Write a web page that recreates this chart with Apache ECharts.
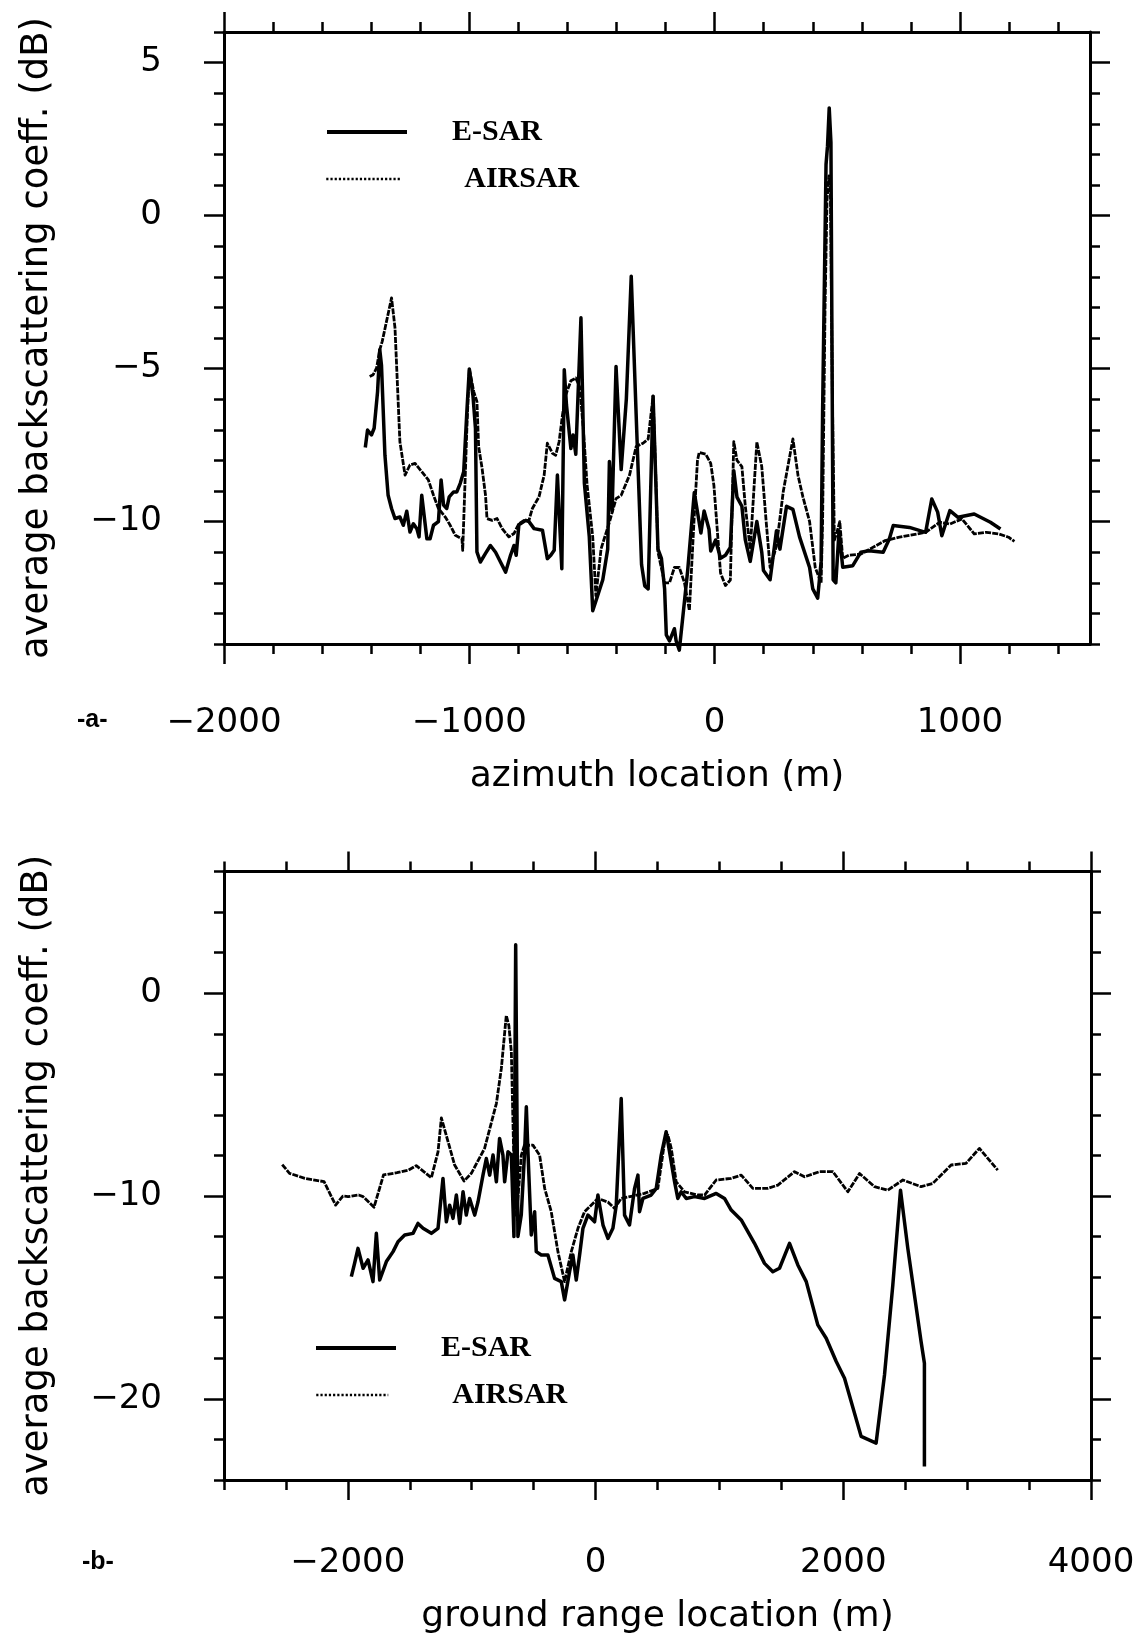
<!DOCTYPE html>
<html><head><meta charset="utf-8">
<script src="https://cdn.jsdelivr.net/npm/echarts@6/dist/echarts.min.js"></script>
<style>html,body{margin:0;padding:0;background:#fff}#c{width:1141px;height:1638px}</style>
</head><body><div id="c"></div>
<script>
// ---- panel (a): azimuth profile ----
const aEsar = [[-1424,-7.58],[-1415,-7.01],[-1399,-7.17],[-1388,-6.95],[-1374,-5.75],[-1365,-4.38],[-1358,-4.9],[-1344,-7.83],[-1331,-9.14],[-1317,-9.57],[-1303,-9.9],[-1283,-9.85],[-1269,-10.12],[-1255,-9.66],[-1242,-10.34],[-1228,-10.07],[-1214,-10.23],[-1205,-10.5],[-1194,-9.14],[-1187,-9.19],[-1173,-10.56],[-1160,-10.56],[-1146,-10.12],[-1126,-10.0],[-1115,-8.64],[-1105,-9.46],[-1092,-9.57],[-1082,-9.19],[-1064,-9.03],[-1051,-9.03],[-1037,-8.75],[-1023,-8.37],[-1010,-6.4],[-1000,-5.01],[-985,-5.9],[-975,-6.95],[-969,-10.99],[-955,-11.32],[-934,-11.04],[-914,-10.78],[-893,-11.0],[-873,-11.32],[-852,-11.65],[-832,-11.1],[-818,-10.78],[-809,-11.1],[-798,-10.1],[-770,-9.96],[-757,-10.0],[-736,-10.23],[-702,-10.28],[-682,-11.21],[-668,-11.1],[-654,-10.94],[-641,-8.48],[-623,-11.54],[-613,-5.04],[-604,-6.19],[-586,-7.61],[-577,-7.17],[-566,-7.8],[-545,-3.34],[-531,-8.75],[-511,-10.5],[-497,-12.91],[-477,-12.42],[-456,-11.9],[-436,-10.9],[-429,-8.04],[-418,-9.66],[-402,-4.93],[-381,-8.3],[-360,-6.0],[-340,-1.98],[-320,-6.5],[-298,-11.4],[-285,-12.1],[-271,-12.2],[-251,-5.9],[-231,-10.9],[-217,-11.2],[-204,-12.2],[-197,-13.7],[-184,-13.9],[-164,-13.5],[-157,-13.9],[-144,-14.2],[-123,-12.6],[-110,-11.6],[-83,-9.05],[-56,-10.37],[-43,-9.65],[-23,-10.25],[-16,-10.96],[4,-10.6],[24,-11.2],[44,-11.1],[64,-10.84],[78,-8.34],[91,-9.2],[111,-9.5],[125,-10.6],[145,-11.3],[172,-10.0],[192,-11.0],[199,-11.6],[226,-11.9],[252,-10.3],[266,-10.9],[293,-9.5],[319,-9.6],[346,-10.5],[387,-11.5],[400,-12.2],[420,-12.5],[434,-11.3],[440,-6.4],[454,1.67],[460,2.27],[467,3.52],[474,2.39],[481,-8.46],[483,-11.9],[494,-12.0],[507,-10.3],[522,-11.49],[563,-11.44],[596,-11.0],[629,-10.95],[687,-11.0],[712,-10.57],[728,-10.13],[794,-10.19],[860,-10.35],[885,-9.26],[909,-9.69],[926,-10.46],[959,-9.64],[992,-9.86],[1058,-9.75],[1124,-10.02],[1165,-10.24]];
const aAirsar = [[-1406,-5.26],[-1392,-5.2],[-1378,-4.98],[-1365,-4.38],[-1355,-4.11],[-1317,-2.69],[-1303,-3.67],[-1283,-7.39],[-1262,-8.48],[-1242,-8.15],[-1221,-8.1],[-1194,-8.37],[-1167,-8.64],[-1146,-9.14],[-1126,-9.57],[-1098,-9.85],[-1078,-10.12],[-1057,-10.45],[-1030,-10.56],[-1027,-10.94],[-1010,-6.95],[-1000,-5.01],[-982,-5.75],[-969,-6.08],[-962,-7.55],[-948,-8.26],[-934,-9.14],[-928,-9.9],[-907,-9.96],[-887,-9.9],[-866,-10.23],[-839,-10.5],[-818,-10.39],[-798,-10.07],[-777,-9.96],[-757,-9.96],[-743,-9.57],[-716,-9.19],[-695,-8.48],[-682,-7.44],[-661,-7.77],[-648,-7.83],[-634,-7.39],[-620,-6.5],[-607,-5.86],[-586,-5.4],[-566,-5.31],[-550,-5.6],[-535,-7.0],[-520,-8.8],[-497,-10.5],[-484,-12.42],[-463,-10.89],[-429,-10.02],[-402,-9.25],[-381,-9.14],[-347,-8.48],[-320,-7.55],[-292,-7.44],[-271,-7.3],[-251,-5.9],[-240,-8.5],[-231,-11.0],[-204,-12.0],[-184,-12.0],[-164,-11.5],[-144,-11.5],[-123,-12.0],[-103,-12.9],[-83,-9.8],[-70,-8.0],[-63,-7.74],[-36,-7.8],[-16,-8.1],[-3,-8.82],[24,-11.68],[44,-12.09],[64,-11.91],[78,-7.39],[91,-8.0],[111,-8.2],[125,-9.5],[145,-10.9],[172,-7.4],[192,-8.2],[210,-10.0],[226,-11.5],[252,-10.8],[280,-9.0],[319,-7.3],[340,-8.5],[360,-9.2],[387,-10.0],[410,-11.5],[434,-12.0],[440,-10.0],[450,-3.0],[458,0.5],[466,1.3],[472,0.8],[480,-6.0],[488,-10.6],[500,-10.3],[510,-10.0],[522,-11.2],[547,-11.1],[596,-11.06],[695,-10.62],[753,-10.51],[860,-10.35],[918,-10.02],[959,-10.08],[1008,-9.91],[1058,-10.4],[1107,-10.35],[1157,-10.4],[1198,-10.51],[1222,-10.65]];
const aXMinor = [-2000,-1800,-1600,-1400,-1200,-1000,-800,-600,-400,-200,0,200,400,600,800,1000,1200,1400];
const aXMajor = [-2000,-1000,0,1000];
const aYMinor = [-14,-13,-12,-11,-10,-9,-8,-7,-6,-5,-4,-3,-2,-1,0,1,2,3,4,5,6];
const aYMajor = [-10,-5,0,5];

// ---- panel (b): ground range profile ----
const bEsar = [[-1972,-13.97],[-1945,-13.3],[-1918,-12.58],[-1877,-13.56],[-1837,-13.15],[-1797,-14.22],[-1770,-11.84],[-1743,-14.14],[-1689,-13.23],[-1635,-12.74],[-1595,-12.25],[-1541,-11.92],[-1474,-11.84],[-1434,-11.35],[-1393,-11.59],[-1326,-11.84],[-1272,-11.59],[-1232,-9.13],[-1205,-11.27],[-1178,-10.45],[-1151,-11.1],[-1124,-9.95],[-1097,-11.35],[-1070,-9.79],[-1044,-10.94],[-1017,-10.12],[-976,-10.94],[-949,-10.28],[-909,-8.97],[-882,-8.15],[-855,-8.97],[-828,-7.98],[-801,-9.3],[-775,-7.16],[-748,-7.98],[-734,-9.3],[-707,-7.82],[-680,-7.98],[-659,-12.0],[-645,2.39],[-627,-12.0],[-600,-10.94],[-573,-7.82],[-559,-5.6],[-546,-7.82],[-519,-11.92],[-492,-10.77],[-479,-12.74],[-438,-12.91],[-385,-12.91],[-331,-14.06],[-277,-14.22],[-250,-15.12],[-210,-13.73],[-183,-12.91],[-156,-14.14],[-129,-12.91],[-102,-11.59],[-62,-10.94],[-8,-11.27],[19,-9.95],[60,-11.43],[100,-12.09],[140,-11.59],[167,-10.45],[207,-5.19],[234,-10.94],[274,-11.43],[315,-9.62],[342,-8.97],[355,-10.77],[382,-10.12],[449,-9.95],[490,-9.62],[530,-7.98],[570,-6.83],[597,-7.82],[638,-9.3],[664,-10.12],[691,-9.79],[732,-10.12],[799,-10.03],[880,-10.12],[974,-9.87],[1041,-10.12],[1095,-10.69],[1176,-11.18],[1283,-12.33],[1364,-13.32],[1431,-13.73],[1485,-13.56],[1566,-12.33],[1633,-13.4],[1701,-14.22],[1794,-16.35],[1862,-17.01],[1943,-18.16],[2010,-18.98],[2144,-21.85],[2265,-22.18],[2333,-18.81],[2400,-14.38],[2462,-9.71],[2521,-12.58],[2628,-17.17],[2655,-18.24],[2655,-23.33]];
const bAirsar = [[-2530,-8.45],[-2471,-8.88],[-2347,-9.13],[-2192,-9.29],[-2099,-10.45],[-2040,-10.0],[-1999,-10.03],[-1913,-9.95],[-1877,-10.03],[-1789,-10.55],[-1712,-8.96],[-1603,-8.85],[-1510,-8.72],[-1448,-8.5],[-1326,-9.1],[-1272,-7.82],[-1245,-6.15],[-1138,-8.47],[-1062,-9.26],[-1003,-8.88],[-896,-7.65],[-801,-5.44],[-761,-3.72],[-721,-1.1],[-700,-1.6],[-680,-2.89],[-655,-9.5],[-640,-11.0],[-620,-9.6],[-600,-8.0],[-575,-7.5],[-559,-7.6],[-546,-7.5],[-506,-7.49],[-452,-7.98],[-411,-9.62],[-358,-10.77],[-304,-12.74],[-250,-14.22],[-196,-12.74],[-142,-11.59],[-89,-10.77],[19,-10.12],[100,-10.3],[154,-10.61],[207,-10.12],[300,-10.0],[395,-9.87],[503,-9.62],[557,-7.33],[584,-7.0],[611,-7.65],[651,-9.3],[718,-9.79],[826,-9.95],[880,-9.95],[974,-9.21],[1095,-9.13],[1176,-8.97],[1270,-9.62],[1391,-9.62],[1472,-9.46],[1606,-8.8],[1687,-9.05],[1808,-8.8],[1916,-8.8],[2037,-9.79],[2131,-8.89],[2252,-9.54],[2359,-9.71],[2481,-9.21],[2628,-9.54],[2722,-9.38],[2871,-8.47],[2991,-8.39],[3099,-7.65],[3247,-8.72]];
const bXMinor = [-3000,-2500,-2000,-1500,-1000,-500,0,500,1000,1500,2000,2500,3000,3500,4000];
const bXMajor = [-2000,0,2000,4000];
const bYMinor = [-24,-22,-20,-18,-16,-14,-12,-10,-8,-6,-4,-2,0,2,4,6];
const bYMajor = [-20,-10,0];

const seriesNames = ['E-SAR','AIRSAR'];
const xTitles = ['azimuth location (m)','ground range location (m)'];
const yTitle = 'average backscattering coeff. (dB)';
const panelTags = ['-a-','-b-'];

const FONT = 'DejaVu Sans';
const fmt = v => (v < 0 ? '\u2212' + Math.abs(v) : String(v));

function axes(dim, gi, pos, min, max, minor, major, labels, name, nameGap, margin) {
  const base = {type:'value', gridIndex:gi, position:pos, min:min, max:max,
    splitLine:{show:false}, axisPointer:{show:false}};
  const main = Object.assign({}, base, {
    axisLine:{show:true, onZero:false, lineStyle:{color:'#000', width:3}},
    axisTick:{show:true, inside:false, length:10, customValues:minor, lineStyle:{color:'#000', width:2.5}},
    axisLabel: labels ? {show:true, customValues:major, margin:margin || 62, color:'#000',
      fontFamily:FONT, fontSize:34, formatter:fmt} : {show:false}
  });
  if (name) {
    Object.assign(main, {name:name, nameLocation:'middle', nameGap:nameGap,
      nameTextStyle:{color:'#000', fontFamily:FONT, fontSize: dim === 'y' ? 37 : 36}});
    if (dim === 'y') main.nameRotate = 90;
  }
  const maj = Object.assign({}, base, {
    axisLine:{show:false, onZero:false},
    axisTick:{show:true, inside:false, length:20, customValues:major, lineStyle:{color:'#000', width:2.5}},
    axisLabel:{show:false}
  });
  return [main, maj];
}

const xAxis = [].concat(
  axes('x',0,'bottom',-2000,1530,aXMinor,aXMajor,true,xTitles[0],115,62),
  axes('x',0,'top',-2000,1530,aXMinor,aXMajor,false),
  axes('x',1,'bottom',-3000,4000,bXMinor,bXMajor,true,xTitles[1],119,66),
  axes('x',1,'top',-3000,4000,bXMinor,bXMajor,false)
);
const yAxis = [].concat(
  axes('y',0,'left',-14,6,aYMinor,aYMajor,true,yTitle,168),
  axes('y',0,'right',-14,6,aYMinor,aYMajor,false),
  axes('y',1,'left',-24,6,bYMinor,bYMajor,true,yTitle,168),
  axes('y',1,'right',-24,6,bYMinor,bYMajor,false)
);

function line(name, data, gi, solid) {
  return {type:'line', name:name, xAxisIndex:gi*4, yAxisIndex:gi*4, data:data,
    symbol:'none', showSymbol:false, clip:false, animation:false,
    itemStyle:{color:'#000'},
    lineStyle: solid ? {color:'#000', width:3.5, join:'round'} : {color:'#000', width:2.8, type:[6,1.2], join:'round'}};
}

function legend(name, left, top, w, pad, solid) {
  return {data:[name], left:left, top:top, itemWidth:w, itemHeight:14, padding:0,
    selectedMode:false,
    itemStyle:{color:'rgba(0,0,0,0)', borderWidth:0, opacity:0},
    lineStyle: solid ? {color:'#000', width:4, type:'solid'} : {color:'#000', width:2.5, type:[2.2,2]},
    textStyle:{color:'#000', fontFamily:'Liberation Serif', fontWeight:'bold', fontSize:30, padding:[0,0,0,pad]}};
}

const chart = echarts.init(document.getElementById('c'), null, {renderer:'canvas'});
chart.setOption({
  animation:false,
  backgroundColor:'#fff',
  title:[
    {text:panelTags[0], left:77, top:708, padding:0, textStyle:{fontFamily:'Liberation Sans', fontWeight:'bold', fontSize:25, color:'#000'}},
    {text:panelTags[1], left:82, top:1550, padding:0, textStyle:{fontFamily:'Liberation Sans', fontWeight:'bold', fontSize:25, color:'#000'}}
  ],
  legend:[
    legend(seriesNames[0], 325, 117, 80, 40, true),
    legend(seriesNames[1], 325, 164, 75, 58, false),
    legend(seriesNames[0], 314, 1333, 80, 40, true),
    legend(seriesNames[1], 315, 1380, 72, 59, false)
  ],
  grid:[
    {left:224, right:51, top:32, height:612},
    {left:224, right:50, top:871.5, height:608.5}
  ],
  xAxis:xAxis,
  yAxis:yAxis,
  series:[
    line(seriesNames[1], aAirsar, 0, false),
    line(seriesNames[0], aEsar, 0, true),
    line(seriesNames[1], bAirsar, 1, false),
    line(seriesNames[0], bEsar, 1, true)
  ]
});
</script>
</body></html>
